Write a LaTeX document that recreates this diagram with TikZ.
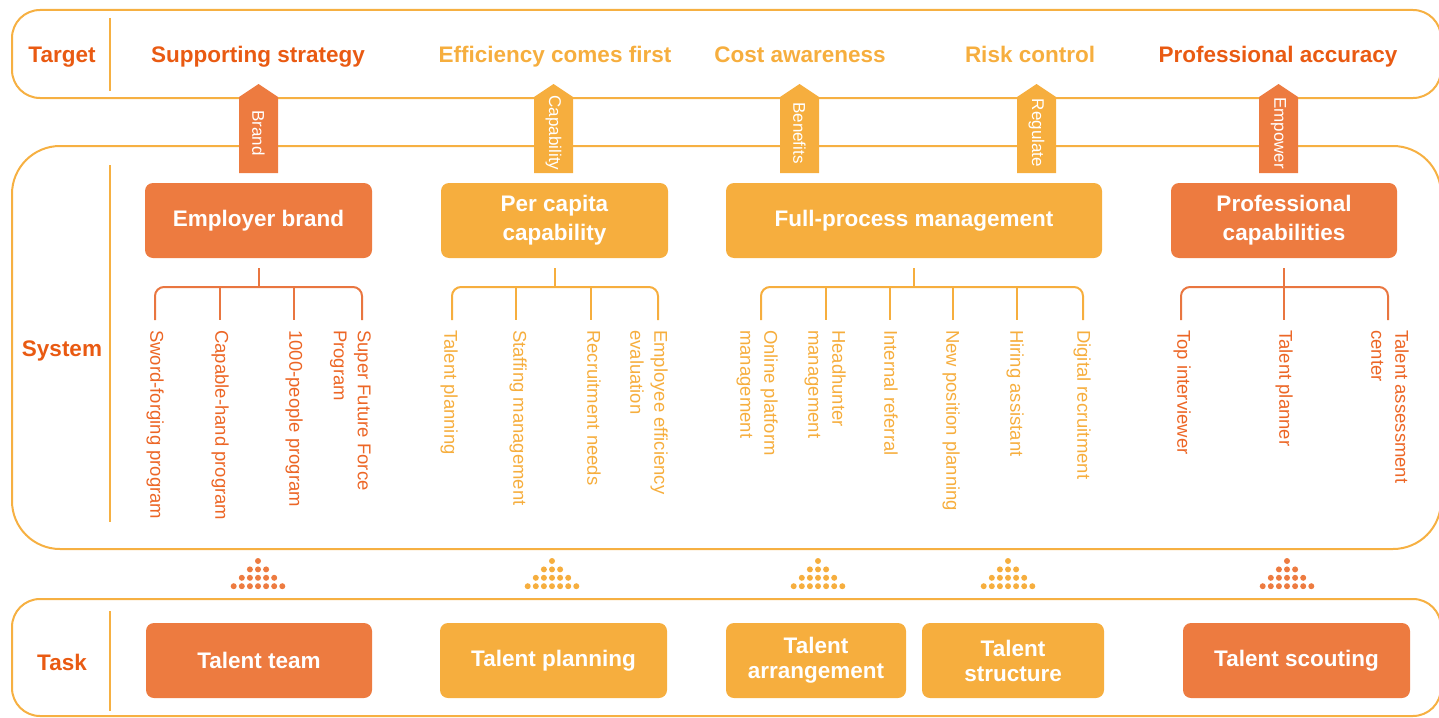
\documentclass[tikz,border=0pt]{standalone}
\usepackage{fontspec}
\setmainfont{Liberation Sans}
\definecolor{cdark}{RGB}{237,123,64}
\definecolor{clight}{RGB}{246,174,62}
\definecolor{ctext}{RGB}{233,90,18}
\definecolor{cvdark}{RGB}{236,102,38}
\definecolor{cline}{RGB}{246,176,66}
\definecolor{cbdark}{RGB}{233,118,64}
\begin{document}
\begin{tikzpicture}[x=1pt,y=-1pt,
  frame/.style={draw=cline, line width=2},
  sepline/.style={draw=cline, line width=1.8},
  hdr/.style={anchor=base, inner sep=0, font=\bfseries\fontsize{22.5}{27}\selectfont},
  boxd/.style={fill=cdark, rounded corners=8, text=white, align=center, inner sep=0, minimum height=75, font=\bfseries\fontsize{22.5}{29}\selectfont},
  boxl/.style={boxd, fill=clight},
  tboxd/.style={boxd, font=\bfseries\fontsize{22.5}{25}\selectfont},
  tboxl/.style={tboxd, fill=clight},
  arrlab/.style={rotate=-90, text=white, inner sep=0, font=\fontsize{17}{20}\selectfont},
  vlab/.style={rotate=-90, anchor=north west, inner sep=0, align=left, font=\fontsize{18.5}{24}\selectfont},
  vlabd/.style={vlab, text=cvdark},
  vlabl/.style={vlab, text=clight},
  brk/.style={line width=2, rounded corners=9}]
\useasboundingbox (0,0) rectangle (1439,717);
\clip (0,0) rectangle (1439,717);
% frames
\draw[frame, rounded corners=28] (12,10) rectangle (1441,98);
\draw[frame, rounded corners=48] (12,146) rectangle (1441,549);
\draw[frame, rounded corners=28] (12,599) rectangle (1441,716);
\draw[sepline] (110,18) -- (110,91);
\draw[sepline] (110,165) -- (110,522);
\draw[sepline] (110,611) -- (110,711);
% row labels
\node[hdr, text=ctext] (lt) at (62,63) {Target};
\node[hdr, text=ctext] (ls) at (62,356) {System};
\node[hdr, text=ctext] (lk) at (62,670) {Task};
% target headers
\node[hdr, text=ctext] (t1) at (258,63) {Supporting strategy};
\node[hdr, text=clight] (t2) at (555,63) {Efficiency comes first};
\node[hdr, text=clight] (t3) at (800,63) {Cost awareness};
\node[hdr, text=clight] (t4) at (1030,63) {Risk control};
\node[hdr, text=ctext] (t5) at (1278,63) {Professional accuracy};
% arrows
\foreach \x/\c/\l/\n in {258.5/cdark/Brand/1, 553.5/clight/Capability/2, 799.5/clight/Benefits/3, 1036.5/clight/Regulate/4, 1278.5/cdark/Empower/5} {
  \fill[\c] ({\x-19.5},173) -- ({\x-19.5},97) -- (\x,84) -- ({\x+19.5},97) -- ({\x+19.5},173) -- cycle;
  \node[arrlab] (a\n) at (\x,133) {\l};
}
% system boxes
\node[boxd, minimum width=227] (s1) at (258.5,220.5) {Employer brand};
\node[boxl, minimum width=227] (s2) at (554.5,220.5) {Per capita\\capability};
\node[boxl, minimum width=376] (s3) at (914,220.5) {Full-process management};
\node[boxd, minimum width=226] (s4) at (1284,220.5) {Professional\\capabilities};
% brackets group 1
\draw[brk, cbdark] (s1.south) ++(0,10) -- (258.5,287);
\draw[brk, cbdark] (155,320) -- (155,287) -- (362,287) -- (362,320);
\draw[brk, cbdark] (220,287) -- (220,320) (294,287) -- (294,320);
% group 2
\draw[brk, clight] (s2.south) ++(0,10) -- (554.5,287);
\draw[brk, clight] (452,320) -- (452,287) -- (658,287) -- (658,320);
\draw[brk, clight] (516,287) -- (516,320) (591,287) -- (591,320);
% group 3
\draw[brk, clight] (s3.south) ++(0,10) -- (914,287);
\draw[brk, clight] (761,320) -- (761,287) -- (1083,287) -- (1083,320);
\draw[brk, clight] (826,287) -- (826,320) (890,287) -- (890,320) (953,287) -- (953,320) (1017,287) -- (1017,320);
% group 4
\draw[brk, cbdark] (s4.south) ++(0,10) -- (1284,320);
\draw[brk, cbdark] (1181,320) -- (1181,287) -- (1388,287) -- (1388,320);
% vertical labels
\node[vlabd] (v1) at (164,330) {Sword-forging program};
\node[vlabd] (v2) at (229,330) {Capable-hand program};
\node[vlabd] (v3) at (303,330) {1000-people program};
\node[vlabd] (v4) at (371,330) {Super Future Force\\Program};
\node[vlabl] (v5) at (458,330) {Talent planning};
\node[vlabl] (v6) at (527,330) {Staffing management};
\node[vlabl] (v7) at (601,330) {Recruitment needs};
\node[vlabl] (v8) at (668,330) {Employee efficiency\\evaluation};
\node[vlabl] (v9) at (778,330) {Online platform\\management};
\node[vlabl] (v10) at (846,330) {Headhunter\\management};
\node[vlabl] (v11) at (898,330) {Internal referral};
\node[vlabl] (v12) at (960,330) {New position planning};
\node[vlabl] (v13) at (1024,330) {Hiring assistant};
\node[vlabl] (v14) at (1091,330) {Digital recruitment};
\node[vlabd] (v15) at (1191,330) {Top interviewer};
\node[vlabd] (v16) at (1293,330) {Talent planner};
\node[vlabd] (v17) at (1409,330) {Talent assessment\\center};
% dot pyramids
\foreach \cx/\c in {258/cdark, 552/clight, 818/clight, 1008/clight, 1287/cdark} {
  \foreach \r in {0,...,3} {
    \pgfmathtruncatemacro\nn{2*\r}
    \foreach \k in {0,...,\nn} {
      \fill[\c] ({\cx+(\k-\r)*8.1},{561+\r*8.4}) circle (3);
    }
  }
}
% task boxes
\node[tboxd, minimum width=226] (k1) at (259,660.5) {Talent team};
\node[tboxl, minimum width=227] (k2) at (553.5,660.5) {Talent planning};
\node[tboxl, minimum width=180] (k3) at (816,660.5) {Talent\\arrangement};
\node[tboxl, minimum width=182] (k4) at (1013,660.5) {Talent\\structure};
\node[tboxd, minimum width=227] (k5) at (1296.5,660.5) {Talent scouting};
\end{tikzpicture}
\end{document}
